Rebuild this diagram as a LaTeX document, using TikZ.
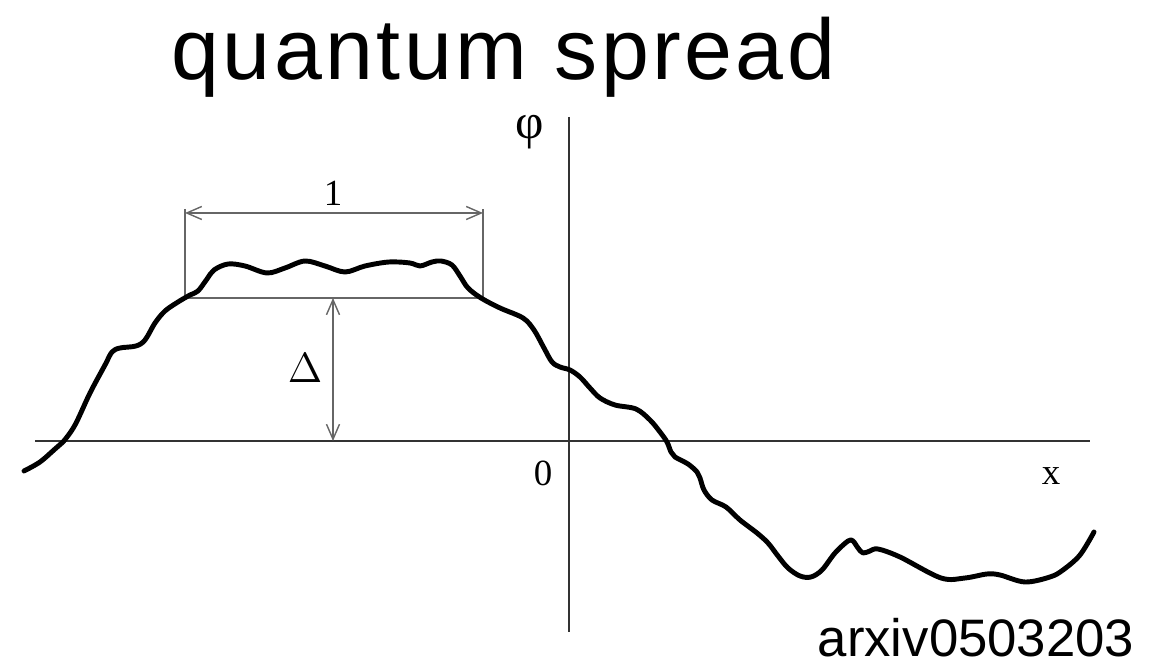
\documentclass[tikz,border=0pt]{standalone}
\usepackage{fontspec}
\setmainfont{Liberation Serif}
\newfontfamily\titlefont{Liberation Sans}
\usetikzlibrary{arrows.meta}

\begin{document}
\begin{tikzpicture}[x=0.1mm,y=-0.1mm,
  axis/.style={line width=0.6pt,draw=black!80},
  dimline/.style={line width=0.4pt,draw=black!60},
  dimarrow/.style={dimline,{Straight Barb[length=1.5mm,width=1.3mm]}-{Straight Barb[length=1.5mm,width=1.3mm]}},
  curve/.style={line width=1.4pt,line join=round,line cap=round},
  lbl/.style={inner sep=0pt,font=\fontsize{10.5}{12}\selectfont}]
\useasboundingbox (0,0) rectangle (1170,664);
% Titles
\node[anchor=base west,inner sep=0pt,font=\titlefont\fontsize{24.5}{28}\selectfont\addfontfeature{LetterSpace=4}] (title) at (171,80) {quantum spread};
\node[anchor=base east,inner sep=0pt,font=\titlefont\fontsize{15}{18}\selectfont] (ref) at (1135,657) {arxiv0503203};
% Axes
\coordinate (xl) at (35,441);
\coordinate (xr) at (1090,441);
\coordinate (yt) at (569,117);
\coordinate (yb) at (569,632);
\draw[axis] (xl) -- (xr);
\draw[axis] (yt) -- (yb);
\node[lbl,font=\fontsize{14}{16}\selectfont] (phi) at (530,132) {φ};
\node[lbl] (zero) at (543,473) {0};
\node[lbl] (xlab) at (1051,476) {x};
% Dimension lines
\coordinate (a1) at (185,209);
\coordinate (a2) at (483,209);
\coordinate (b1) at (185,298);
\coordinate (b2) at (483,298);
\coordinate (c1) at (185,213);
\coordinate (c2) at (483,213);
\coordinate (d1) at (333,298);
\coordinate (d2) at (333,441);
\draw[dimline] (a1) -- (b1) -- (b2) -- (a2);
\draw[dimarrow] (c1) -- (c2);
\draw[dimarrow] (d1) -- (d2);
\node[lbl] (len) at (333,193) {1};
\node[lbl,font=\fontsize{12}{14}\selectfont] (gap) at (305,368) {$\Delta$};
% Field profile
\draw[curve] plot[smooth,tension=0.55] coordinates {
  (24,471) (40,462) (55,449) (63,442) (75,425) (90,393) (105,365) (112,352)
  (120,348) (136,346) (145,340) (155,323) (165,311) (178,302) (190,295)
  (198,291) (207,279) (214,270) (228,264) (245,266) (267,273) (285,268)
  (305,261) (325,266) (345,272) (365,266) (389,262) (410,263) (420,266)
  (432,262) (441,261) (452,265) (460,276) (468,288) (481,298) (500,308)
  (523,318) (534,330) (544,348) (552,362) (560,367) (570,370) (580,377)
  (590,388) (600,398) (615,405) (636,409) (650,420) (660,432) (667,442)
  (671,452) (675,457) (688,464) (697,472) (700,478) (704,490) (712,500)
  (726,507) (740,520) (757,533) (768,543) (778,556) (788,568) (800,576)
  (811,577) (822,570) (835,553) (848,541) (853,541) (858,548) (863,553)
  (870,551) (878,549) (900,557) (941,578) (965,578) (987,574) (1000,575)
  (1025,582) (1050,577) (1063,570) (1080,555) (1094,532)};
\end{tikzpicture}
\end{document}
